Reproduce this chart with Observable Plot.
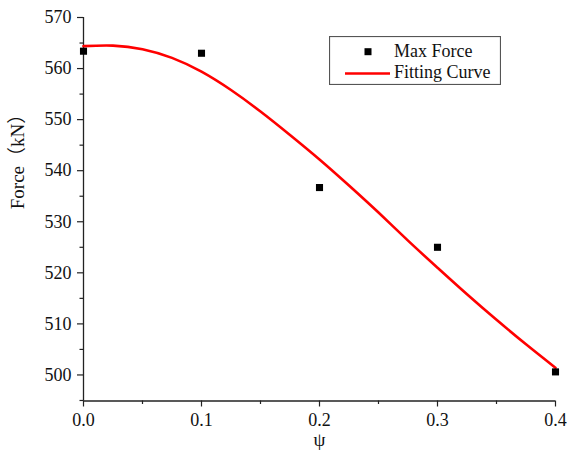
<!DOCTYPE html>
<html>
<head>
<meta charset="utf-8">
<script src="https://cdn.jsdelivr.net/npm/d3@7"></script>
<script src="https://cdn.jsdelivr.net/npm/@observablehq/plot@0.6"></script>
<style>
  html, body { margin: 0; padding: 0; background: #fff; }
  #wrap { position: relative; width: 567px; height: 458px; }
  #legend { position: absolute; left: 329px; top: 36px; }
</style>
</head>
<body>
<div id="wrap"></div>
<script>
// Data
const psi = [0, 0.1, 0.2, 0.3, 0.4];
const maxForce = [563.4, 563.0, 536.7, 525.0, 500.6];

const curvePsi = [0, 0.025, 0.05, 0.075, 0.10, 0.125, 0.15, 0.175, 0.20,
                  0.225, 0.25, 0.275, 0.30, 0.325, 0.35, 0.375, 0.40];
const curveForce = [564.4, 564.5, 563.8, 562.1, 559.4, 555.8, 551.6, 547.0, 542.2,
                    537.1, 531.8, 526.3, 521.0, 515.8, 510.8, 506.0, 501.4];

const yMajor = [500, 510, 520, 530, 540, 550, 560, 570];
const yMinor = [495, 505, 515, 525, 535, 545, 555, 565];
const xMajor = [0, 0.1, 0.2, 0.3, 0.4];
const xMinor = [0.05, 0.15, 0.25, 0.35];

const points = psi.map((p, i) => ({psi: p, force: maxForce[i]}));
const curve = curvePsi.map((p, i) => ({psi: p, force: curveForce[i]}));

const FONT = "'Liberation Serif', 'Times New Roman', 'Noto Sans CJK SC', serif";
const AX = "#222";

const chart = Plot.plot({
  width: 567,
  height: 458,
  marginLeft: 83,
  marginRight: 12,
  marginTop: 17,
  marginBottom: 57.5,
  style: {fontFamily: FONT, fontSize: "18px", color: "#111", background: "#fff"},
  x: {domain: [0, 0.4]},
  y: {domain: [494.9, 570]},
  marks: [
    Plot.axisY(yMajor, {tickSize: 6, tickPadding: 6, fontSize: 18, stroke: AX, strokeWidth: 1.2, label: null, tickFormat: d => String(d)}),
    Plot.axisY(yMinor, {tickSize: 3.5, text: null, stroke: AX, strokeWidth: 1.2, label: null}),
    Plot.axisX(xMajor, {tickSize: 6, tickPadding: 6, fontSize: 18, stroke: AX, strokeWidth: 1.2, label: null, tickFormat: d3.format(".1f")}),
    Plot.axisX(xMinor, {tickSize: 3.5, text: null, stroke: AX, strokeWidth: 1.2, label: null}),
    Plot.ruleX([0], {stroke: AX, strokeWidth: 1.3}),
    Plot.ruleY([494.9], {stroke: AX, strokeWidth: 1.3}),
    Plot.line(curve, {x: "psi", y: "force", curve: "natural", stroke: "#ff0000", strokeWidth: 2.6}),
    Plot.dot(points, {x: "psi", y: "force", symbol: "square", r: 4, fill: "#000", stroke: "none"}),
    Plot.text(["Force（kN）"], {frameAnchor: "left", dx: -66, rotate: -90, fontSize: 19, fill: "#111"}),
    Plot.text(["ψ"], {frameAnchor: "bottom", dy: 45, fontSize: 19, fill: "#111"})
  ]
});
document.getElementById("wrap").appendChild(chart);

// Legend
const legend = document.createElement("div");
legend.id = "legend";
legend.innerHTML = `
<svg width="172" height="49" xmlns="http://www.w3.org/2000/svg" style="font-family:${FONT};">
  <rect x="0.5" y="0.5" width="171" height="48" fill="#fff" stroke="#555" stroke-width="1.2"/>
  <rect x="35.5" y="12.2" width="7" height="7" fill="#000"/>
  <line x1="16" x2="61" y1="37.5" y2="37.5" stroke="#ff0000" stroke-width="2.6"/>
  <text x="65" y="21" font-size="18" fill="#111">Max Force</text>
  <text x="65" y="41.5" font-size="18" fill="#111">Fitting Curve</text>
</svg>`;
document.getElementById("wrap").appendChild(legend);
</script>
</body>
</html>
